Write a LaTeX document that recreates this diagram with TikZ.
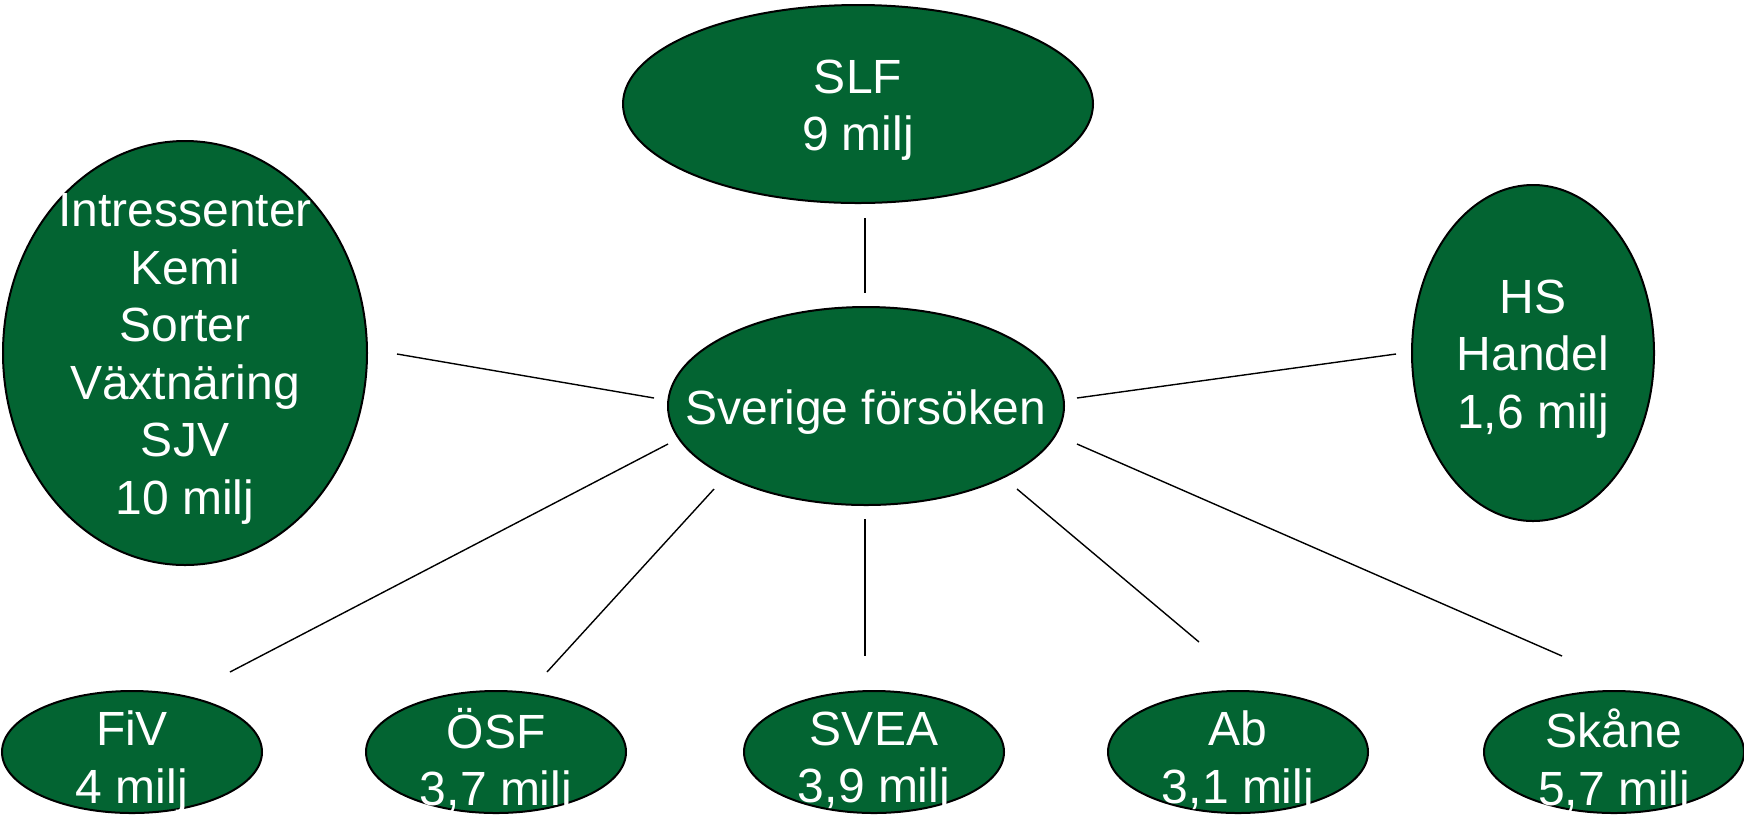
\documentclass[tikz,border=0pt]{standalone}
\usepackage{fontspec}
\setmainfont{Liberation Sans}
\usetikzlibrary{shapes.geometric}
\definecolor{blobgreen}{HTML}{036432}
\begin{document}
\begin{tikzpicture}[x=0.5pt,y=-0.5pt,every node/.style={inner sep=0pt,outer sep=0pt},
    blob/.style={ellipse,draw=black,line width=1pt,fill=blobgreen},
    blobtext/.style={text=white,align=center,yshift=-3pt,font=\fontsize{24}{28.75}\selectfont},
    spoke/.style={line width=0.7pt}]
  %NOTE! Coordinates are in pixels, origin top left
  \useasboundingbox (0,0) rectangle (1744,816);

  % Big ellipses: centre, top, left, right
  \node[blob,minimum width=198pt,minimum height=99pt] (ctr) at (866,406) {};
  \node[blobtext] (ctrtext) at (ctr) {Sverige försöken};
  \node[blob,minimum width=235pt,minimum height=99pt] (slf) at (858,104) {};
  \node[blobtext] (slftext) at (slf) {SLF\\9 milj};
  \node[blob,minimum width=182pt,minimum height=212pt] (intr) at (185,353) {};
  \node[blobtext] (intrtext) at (intr) {Intressenter\\Kemi\\Sorter\\Växtnäring\\SJV\\10 milj};
  \node[blob,minimum width=121pt,minimum height=168pt] (hs) at (1533,353) {};
  \node[blobtext] (hstext) at (hs) {HS\\Handel\\1,6 milj};

  % Small ellipses along the bottom
  \foreach \name/\x/\top/\bot in {fiv/132/FiV/{4 milj}, osf/496/ÖSF/{3,7 milj},
      svea/874/SVEA/{3,9 milj}, ab/1238/Ab/{3,1 milj}, skane/1614/Skåne/{5,7 milj}}{
    \node[blob,minimum width=130pt,minimum height=61pt] (\name) at (\x,752) {};
    \node[blobtext,yshift=-2pt] (\name text) at (\name) {\top\\\bot};
  }

  % Spokes, drawn loose between the ellipses
  \foreach \name/\ax/\ay/\bx/\by in {slf/865/218/865/293, intr/397/354/654/398,
      hs/1077/398/1396/354, fiv/668/444/230/672, osf/714/489/547/672,
      svea/865/519/865/656, ab/1017/489/1199/642, skane/1077/444/1562/656}{
    \coordinate (\name-a) at (\ax,\ay);
    \coordinate (\name-b) at (\bx,\by);
    \draw[spoke] (\name-a) -- (\name-b);
  }
\end{tikzpicture}
\end{document}
